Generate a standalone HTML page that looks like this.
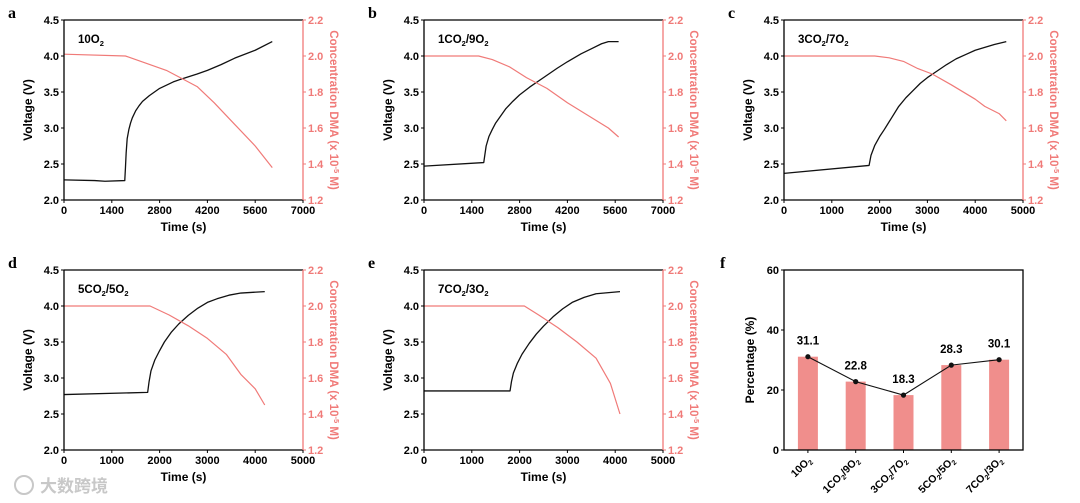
<!DOCTYPE html>
<html><head><meta charset="utf-8"><style>
html,body{margin:0;padding:0;background:#fff;width:1080px;height:503px;overflow:hidden}
svg{display:block;font-family:"Liberation Sans",Arial,sans-serif}
</style></head><body>
<svg id="fig" width="1080" height="503" viewBox="0 0 1080 503" xmlns="http://www.w3.org/2000/svg"></svg>
<script>
// ---- data ----
const aTime=[0,900,1200,1780,1800,1820,1850,1900,1950,2000,2100,2200,2300,2500,2800,3200,3500,3900,4200,4600,5000,5600,6100];
const aVolt=[2.28,2.27,2.26,2.27,2.45,2.65,2.85,2.98,3.07,3.14,3.24,3.31,3.37,3.45,3.55,3.64,3.69,3.75,3.8,3.88,3.97,4.08,4.2];
const aCTime=[0,1800,2400,3000,3500,3900,4400,5000,5600,6100];
const aConc=[2.01,2.0,1.96,1.92,1.87,1.83,1.74,1.62,1.5,1.38];
const bTime=[0,1750,1780,1820,1900,2000,2100,2250,2400,2600,2800,3100,3500,3900,4200,4600,4900,5200,5400,5700];
const bVolt=[2.47,2.52,2.62,2.75,2.88,2.98,3.07,3.17,3.27,3.37,3.46,3.57,3.7,3.83,3.92,4.03,4.1,4.17,4.2,4.2];
const bCTime=[0,1600,2000,2500,3000,3600,4200,4800,5400,5700];
const bConc=[2.0,2.0,1.98,1.94,1.88,1.82,1.74,1.67,1.6,1.55];
const cTime=[0,1780,1820,1900,2000,2100,2250,2400,2550,2700,2850,3000,3200,3400,3600,3800,4000,4200,4400,4650];
const cVolt=[2.37,2.48,2.62,2.76,2.88,2.98,3.14,3.3,3.42,3.52,3.62,3.7,3.79,3.88,3.96,4.02,4.08,4.12,4.16,4.2];
const cCTime=[0,1900,2200,2500,2800,3100,3500,4000,4200,4500,4650];
const cConc=[2.0,2.0,1.99,1.97,1.93,1.9,1.84,1.76,1.72,1.68,1.64];
const dTime=[0,1750,1780,1820,1900,2000,2100,2250,2400,2600,2800,3000,3200,3450,3700,4200];
const dVolt=[2.77,2.8,2.95,3.1,3.25,3.38,3.5,3.64,3.75,3.87,3.97,4.05,4.1,4.15,4.18,4.2];
const dCTime=[0,1800,2200,2600,3000,3400,3700,4000,4200];
const dConc=[2.0,2.0,1.95,1.89,1.82,1.73,1.62,1.54,1.45];
const eTime=[0,1800,1830,1870,1950,2050,2200,2350,2500,2700,2900,3100,3350,3600,4100];
const eVolt=[2.82,2.82,2.95,3.07,3.2,3.33,3.48,3.61,3.72,3.85,3.96,4.05,4.12,4.17,4.2];
const eCTime=[0,1900,2100,2400,2800,3200,3600,3900,4100];
const eConc=[2.0,2.0,2.0,1.95,1.88,1.8,1.71,1.57,1.4];
const vTicks=[2.0,2.5,3.0,3.5,4.0,4.5];
const cTicks=[1.2,1.4,1.6,1.8,2.0,2.2];
const xTicks7000=[0,1400,2800,4200,5600,7000];
const xTicks5000=[0,1000,2000,3000,4000,5000];
const fCats=["10O","1CO/9O","3CO/7O","5CO/5O","7CO/3O"];
const fVals=[31.1,22.8,18.3,28.3,30.1];
const fTicks=[0,20,40,60];

const NS="http://www.w3.org/2000/svg";
const svg=document.getElementById('fig');
const RED="#f07a78";
function el(t,a,p){const e=document.createElementNS(NS,t);for(const k in a)e.setAttribute(k,a[k]);(p||svg).appendChild(e);return e;}

const panels=[
 {id:'a',x:64,y:20,xt:xTicks7000,xmax:7000,t:aTime,v:aVolt,ct:aCTime,c:aConc,lab:'10O<tspan font-size="7.5" dy="3">2</tspan>'},
 {id:'b',x:424,y:20,xt:xTicks7000,xmax:7000,t:bTime,v:bVolt,ct:bCTime,c:bConc,lab:'1CO<tspan font-size="7.5" dy="3">2</tspan><tspan dy="-3">/9O</tspan><tspan font-size="7.5" dy="3">2</tspan>'},
 {id:'c',x:784,y:20,xt:xTicks5000,xmax:5000,t:cTime,v:cVolt,ct:cCTime,c:cConc,lab:'3CO<tspan font-size="7.5" dy="3">2</tspan><tspan dy="-3">/7O</tspan><tspan font-size="7.5" dy="3">2</tspan>'},
 {id:'d',x:64,y:270,xt:xTicks5000,xmax:5000,t:dTime,v:dVolt,ct:dCTime,c:dConc,lab:'5CO<tspan font-size="7.5" dy="3">2</tspan><tspan dy="-3">/5O</tspan><tspan font-size="7.5" dy="3">2</tspan>'},
 {id:'e',x:424,y:270,xt:xTicks5000,xmax:5000,t:eTime,v:eVolt,ct:eCTime,c:eConc,lab:'7CO<tspan font-size="7.5" dy="3">2</tspan><tspan dy="-3">/3O</tspan><tspan font-size="7.5" dy="3">2</tspan>'}
];
const W=239,H=180;
panels.forEach(p=>{
  const g=el('g',{});
  
  
  const sx=t=>p.x+t/p.xmax*W, sy=v=>p.y+H-(v-2)/2.5*H, sc=c=>p.y+H-(c-1.2)/1.0*H;
  const pl=el('text',{x:p.x-56,y:p.y-2,'font-family':'Liberation Serif,serif','font-weight':'bold','font-size':'16'},g);pl.textContent=p.id;
  
  const vl=el('polyline',{points:p.t.map((t,i)=>sx(t)+','+sy(p.v[i])).join(' '),fill:'none',stroke:'#111','stroke-width':1.3,'stroke-linejoin':'round'},g);
  
  const cl=el('polyline',{points:p.ct.map((t,i)=>sx(t)+','+sc(p.c[i])).join(' '),fill:'none',stroke:RED,'stroke-width':1.2,'stroke-linejoin':'round'},g);
  
  el('line',{x1:p.x,y1:p.y,x2:p.x+W,y2:p.y,stroke:'#000','stroke-width':1.3},g);
  el('line',{x1:p.x,y1:p.y+H,x2:p.x+W,y2:p.y+H,stroke:'#000','stroke-width':1.3},g);
  el('line',{x1:p.x,y1:p.y,x2:p.x,y2:p.y+H,stroke:'#000','stroke-width':1.3},g);
  el('line',{x1:p.x+W,y1:p.y,x2:p.x+W,y2:p.y+H,stroke:RED,'stroke-width':1.3},g);
  vTicks.forEach(v=>{const y=sy(v);el('line',{x1:p.x-3,y1:y,x2:p.x,y2:y,stroke:'#000'},g);
    const t=el('text',{x:p.x-5,y:y+4,'text-anchor':'end','font-size':'11','font-weight':'bold'},g);t.textContent=v.toFixed(1);});
  cTicks.forEach(v=>{const y=sc(v);el('line',{x1:p.x+W,y1:y,x2:p.x+W+3,y2:y,stroke:RED},g);
    const t=el('text',{x:p.x+W+5,y:y+4,'font-size':'11','font-weight':'bold',fill:RED},g);t.textContent=v.toFixed(1);});
  p.xt.forEach(v=>{const x=sx(v);el('line',{x1:x,y1:p.y+H,x2:x,y2:p.y+H+3,stroke:'#000'},g);
    const t=el('text',{x:x,y:p.y+H+14,'text-anchor':'middle','font-size':'11','font-weight':'bold'},g);t.textContent=v;});
  const xt=el('text',{x:p.x+W/2,y:p.y+H+31,'text-anchor':'middle','font-size':'12','font-weight':'bold'},g);xt.textContent='Time (s)';
  
  const yt=el('text',{transform:`translate(${p.x-32},${p.y+H/2}) rotate(-90)`,'text-anchor':'middle','font-size':'12','font-weight':'bold'},g);yt.textContent='Voltage (V)';
  
  const rt=el('text',{transform:`translate(${p.x+W+27},${p.y+H/2}) rotate(90)`,'text-anchor':'middle','font-size':'11.5','font-weight':'bold',fill:RED},g);
  rt.innerHTML='Concentration DMA (x 10<tspan font-size="7.5" dy="-4">-5</tspan><tspan dy="4"> M)</tspan>';
  
  const lb=el('text',{x:p.x+14,y:p.y+23,'font-size':'11.5','font-weight':'bold'},g);lb.innerHTML=p.lab;
  
});

// panel f
(function(){
  const X=784,Y=270,fW=239,fH=180;
  const g=el('g',{});
  
  const sy=v=>Y+fH-v/60*fH; const step=fW/5; const cx=i=>X+step*(i+0.5);
  const pl=el('text',{x:X-64,y:Y-2,'font-family':'Liberation Serif,serif','font-weight':'bold','font-size':'16'},g);pl.textContent='f';
  
  fVals.forEach((v,i)=>{const r=el('rect',{x:cx(i)-10,y:sy(v),width:20,height:sy(0)-sy(v),fill:'#f08e8c'},g);
    });
  el('polyline',{points:fVals.map((v,i)=>cx(i)+','+sy(v)).join(' '),fill:'none',stroke:'#111','stroke-width':1.1},g);
  fVals.forEach((v,i)=>{const c=el('circle',{cx:cx(i),cy:sy(v),r:2.6,fill:'#111'},g);
    
    const t=el('text',{x:cx(i),y:sy(v)-12,'text-anchor':'middle','font-size':'11.5','font-weight':'bold'},g);t.textContent=v.toFixed(1);
    });
  el('rect',{x:X,y:Y,width:fW,height:fH,fill:'none',stroke:'#000','stroke-width':1.3},g);
  fTicks.forEach(v=>{const y=sy(v);el('line',{x1:X-3,y1:y,x2:X,y2:y,stroke:'#000'},g);
    const t=el('text',{x:X-5,y:y+4,'text-anchor':'end','font-size':'11','font-weight':'bold'},g);t.textContent=v;});
  fCats.forEach((c,i)=>{const x=cx(i);el('line',{x1:x,y1:Y+fH,x2:x,y2:Y+fH+3,stroke:'#000'},g);
    const parts=c.split('/');
    const t=el('text',{transform:`translate(${x+4},${Y+fH+11}) rotate(-45)`,'text-anchor':'end','font-size':'10.5','font-weight':'bold'},g);
    t.innerHTML=parts.map((s,k)=>(k?'<tspan dy="-2.5">/</tspan><tspan>':'<tspan>')+s+'</tspan><tspan font-size="7" dy="2.5">2</tspan>').join('');
    });
  const yt=el('text',{transform:`translate(${X-30},${Y+fH/2}) rotate(-90)`,'text-anchor':'middle','font-size':'12','font-weight':'bold'},g);yt.textContent='Percentage (%)';
  
})();
const wm=el('text',{x:40,y:492,'font-size':'17','font-weight':'bold',fill:'#c8c8c8','font-family':'"Liberation Sans","Noto Sans CJK SC",sans-serif'});
wm.textContent='大数跨境';

const wl=el('circle',{cx:24,cy:485,r:9,fill:'none',stroke:'#c8c8c8','stroke-width':2});

</script>
</body></html>
